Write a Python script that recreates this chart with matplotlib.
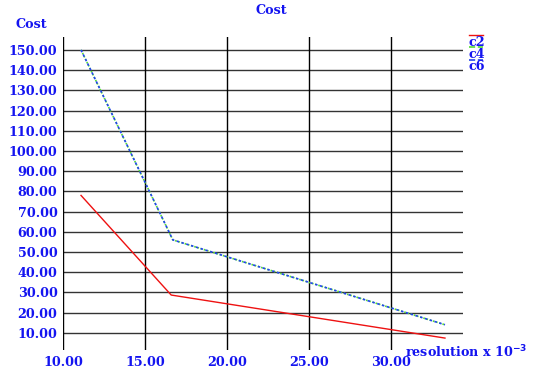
import numpy as np
from matplotlib import pyplot as plt

# Cost versus resolution (x 10^-3)
res_c2 = [11.1, 16.6, 33.3]
cost_c2 = [78.0, 28.7, 7.4]
res_c4 = [11.1, 16.7, 33.3]
cost_c4 = [150.0, 56.0, 14.0]
res_c6 = [11.1, 16.7, 33.3]
cost_c6 = [150.0, 56.0, 14.0]

xticks = [10, 15, 20, 25, 30]
yticks = [10, 20, 30, 40, 50, 60, 70, 80, 90, 100, 110, 120, 130, 140, 150]

txt = dict(color='#1414f0', family='DejaVu Serif', fontweight='bold', fontsize=9.2)

fig = plt.figure(figsize=(5.34, 3.76), dpi=100)
ax = fig.add_axes([63/534, 26/376, 400/534, 313/376])

# Grid
for y in yticks:
    ax.axhline(y, color='#333333', lw=1.0, zorder=1)
for x in xticks:
    ax.axvline(x, color='black', lw=1.0, zorder=1)

# Curves
l2, = ax.plot(res_c2, cost_c2, color='#ee1111', lw=1.0, linestyle='-', zorder=3)
l4, = ax.plot(res_c4, cost_c4, color='#55dd33', lw=1.2, linestyle=(0, (1, 1)), zorder=3)
l6, = ax.plot(res_c6, cost_c6, color='#2244ee', lw=1.2, linestyle=(0, (1.5, 1.5)), zorder=4)

ax.set_xlim(10, 34.4)
ax.set_ylim(1.5, 156.4)
for s in ax.spines.values():
    s.set_visible(False)
ax.set_xticks(xticks)
ax.set_yticks(yticks)
ax.set_xticklabels(['%.2f' % v for v in xticks], **txt)
ax.set_yticklabels(['%.2f' % v for v in yticks], **txt)
ax.tick_params(length=0, pad=4)
ax.tick_params(axis='x', pad=4)

# Titles
fig.text(271/534, 1 - 11/376, 'Cost', ha='center', va='center', **txt)
fig.text(31/534, 1 - 25/376, 'Cost', ha='center', va='center', **txt)
fig.text(405/534, 1 - 352/376, r'resolution x 10$^{\mathbf{-3}}$', ha='left', va='center', **txt)

# Legend
labels = ['c2', 'c4', 'c6']
lines = [l2, l4, l6]
for i, (lab, ln) in enumerate(zip(labels, lines)):
    ly = 1 - (35 + i*12.3)/376
    fig.add_artist(plt.Line2D([469/534, 483/534], [ly, ly], color=ln.get_color(),
                              lw=ln.get_linewidth(), linestyle=ln.get_linestyle()))
    fig.text(477/534, 1 - (42 + i*12)/376, lab, ha='center', va='center', **txt)

plt.savefig('out.png', dpi=100)
